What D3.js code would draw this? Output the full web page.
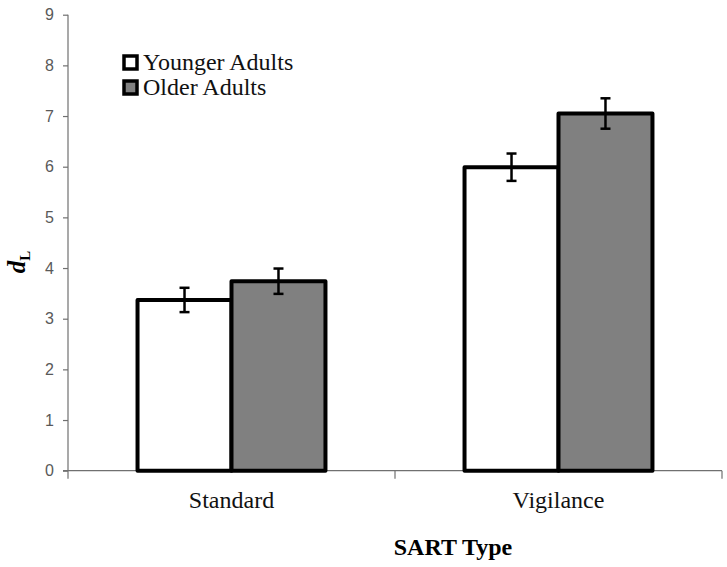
<!DOCTYPE html>
<html><head><meta charset="utf-8">
<script src="https://cdn.jsdelivr.net/npm/d3@7"></script>
<style>html,body{margin:0;padding:0;background:#fff;}
.serif{font-family:"Liberation Serif","Times New Roman","DejaVu Serif",serif;}
.sans{font-family:"Liberation Sans",Arial,sans-serif;}
</style>
</head><body>
<svg id="c" width="727" height="567"></svg>
<script>
const categories = ["Standard", "Vigilance"];
const seriesNames = ["Younger Adults", "Older Adults"];
const younger = [3.37, 5.99];
const older = [3.74, 7.05];
const youngerErr = [0.24, 0.27];
const olderErr = [0.25, 0.30];
const yTicks = [0,1,2,3,4,5,6,7,8,9];
const fills = ["#ffffff", "#808080"];

const svg = d3.select("#c");
const L = 68, R = 722, T = 14.7, B = 470.7;
const x0 = d3.scaleBand().domain(categories).range([L, R]).padding(0);
const x1 = d3.scaleBand().domain(seriesNames).range([0, x0.bandwidth()]).paddingInner(0).paddingOuter(0.74);
const y = d3.scaleLinear().domain([0, 9]).range([B, T]);

const data = categories.map((c, i) => ({
  cat: c,
  vals: [
    {s: seriesNames[0], v: younger[i], e: youngerErr[i], f: fills[0]},
    {s: seriesNames[1], v: older[i], e: olderErr[i], f: fills[1]}
  ]
}));

// Y axis
const yAxis = d3.axisLeft(y).tickValues(yTicks).tickSize(5).tickPadding(9).tickFormat(d3.format("d"));
const gy = svg.append("g").attr("transform", `translate(${L},0)`).call(yAxis);
gy.attr("font-family", null).attr("font-size", null);
gy.select(".domain").remove();
gy.selectAll(".tick line").attr("stroke", "#707070").attr("stroke-width", 1.2);
gy.selectAll("text").attr("fill", "#595959").attr("class", "sans").style("font-size", "16px");
svg.append("line").attr("x1", L).attr("x2", L).attr("y1", T).attr("y2", B + 8).attr("stroke", "#707070").attr("stroke-width", 1.2);

// X axis
svg.append("line").attr("x1", L - 5).attr("x2", R).attr("y1", B).attr("y2", B).attr("stroke", "#707070").attr("stroke-width", 1.2);
const bounds = categories.map(c => x0(c)).concat([x0(categories[categories.length-1]) + x0.bandwidth()]);
svg.selectAll(".xt").data(bounds.slice(1)).enter().append("line")
  .attr("x1", d => d).attr("x2", d => d).attr("y1", B).attr("y2", B + 8)
  .attr("stroke", "#707070").attr("stroke-width", 1.2);
svg.selectAll(".xl").data(categories).enter().append("text")
  .attr("class", "serif")
  .attr("x", d => x0(d) + x0.bandwidth() / 2).attr("y", 508)
  .attr("text-anchor", "middle").attr("fill", "#111")
  .style("font-size", "24px")
  .text(d => d);

// Bars
const groups = svg.selectAll(".grp").data(data).enter().append("g")
  .attr("transform", d => `translate(${x0(d.cat)},0)`);
groups.selectAll("rect").data(d => d.vals).enter().append("rect")
  .attr("x", d => x1(d.s)).attr("width", x1.bandwidth())
  .attr("y", d => y(d.v)).attr("height", d => B - y(d.v))
  .attr("fill", d => d.f).attr("stroke", "#000").attr("stroke-width", 4)
  .attr("stroke-linejoin", "round");

// Error bars
const eb = groups.selectAll(".eb").data(d => d.vals).enter().append("g");
eb.append("line")
  .attr("x1", d => x1(d.s) + x1.bandwidth() / 2).attr("x2", d => x1(d.s) + x1.bandwidth() / 2)
  .attr("y1", d => y(d.v + d.e)).attr("y2", d => y(d.v - d.e))
  .attr("stroke", "#000").attr("stroke-width", 2.5);
eb.selectAll(".cap").data(d => [d.v + d.e, d.v - d.e].map(v => ({v, cx: x1(d.s) + x1.bandwidth() / 2})))
  .enter().append("line")
  .attr("x1", d => d.cx - 5).attr("x2", d => d.cx + 5)
  .attr("y1", d => y(d.v)).attr("y2", d => y(d.v))
  .attr("stroke", "#000").attr("stroke-width", 2.5);

// Axis titles
svg.append("text").attr("class", "serif").attr("x", 453).attr("y", 555).attr("text-anchor", "middle")
  .style("font-size", "24px").style("font-weight", "bold")
  .attr("fill", "#000").text("SART Type");
const yt = svg.append("text").attr("class", "serif").attr("transform", "translate(25,262) rotate(-90)").attr("text-anchor", "middle")
  .attr("fill", "#000");
yt.append("tspan").style("font-size", "25px").style("font-style", "italic").style("font-weight", "bold").text("d");
yt.append("tspan").style("font-size", "15px").style("font-weight", "bold").attr("dy", 5).text("L");

// Legend
const lg = svg.selectAll(".lg").data(seriesNames).enter().append("g")
  .attr("transform", (d, i) => `translate(124,${56 + i * 25})`);
lg.append("rect").attr("width", 13).attr("height", 13)
  .attr("fill", (d, i) => fills[i]).attr("stroke", "#000").attr("stroke-width", 3.5);
lg.append("text").attr("class", "serif").attr("x", 19).attr("y", 14)
  .style("font-size", "24px")
  .attr("fill", "#111").text(d => d);
</script>
</body></html>
